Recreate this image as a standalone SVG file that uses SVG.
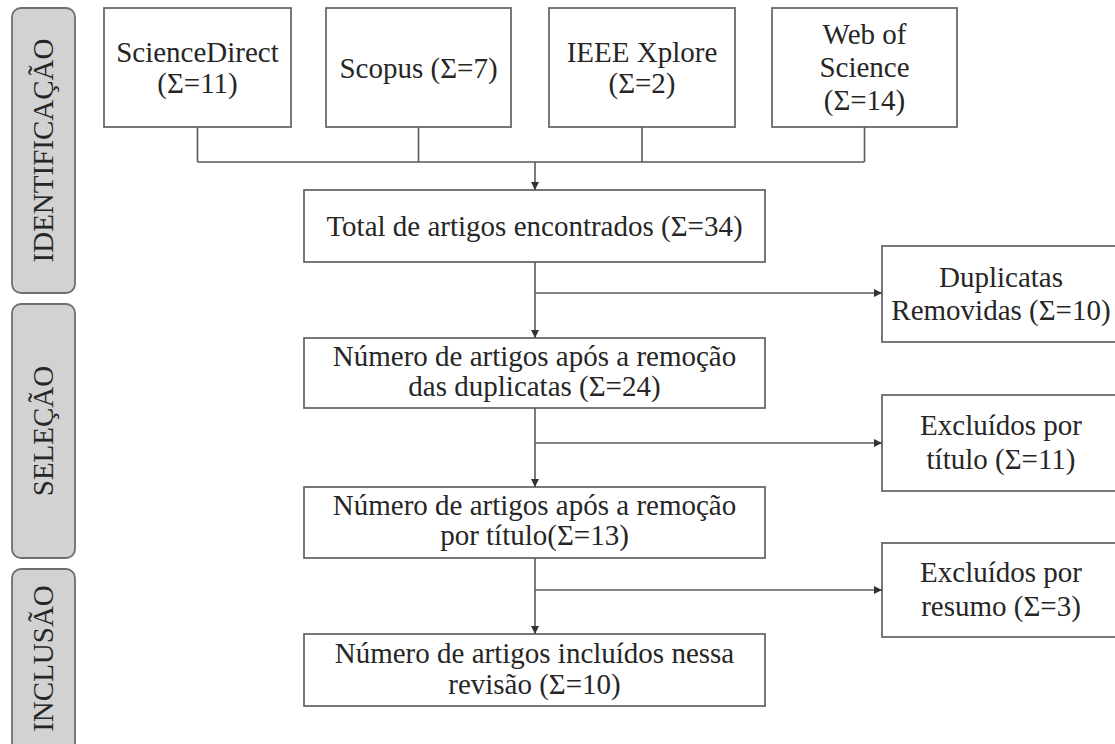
<svg xmlns="http://www.w3.org/2000/svg" width="1115" height="744" viewBox="0 0 1115 744">
<defs>
<style>
.box{fill:#fff;stroke:#6a6a6a;stroke-width:1.8}
.side{fill:#d2d2d2;stroke:#6e6e6e;stroke-width:1.8}
.t{font-family:"Liberation Serif","Times New Roman",serif;font-size:29px;fill:#262626;text-anchor:middle}
.c{fill:none;stroke:#5a5a5a;stroke-width:1.6}
</style>
<marker id="ah" viewBox="0 0 10 10" refX="10" refY="5" markerWidth="8" markerHeight="8" markerUnits="userSpaceOnUse" orient="auto">
<path d="M0,0 L10,5 L0,10 z" fill="#333"/>
</marker>
</defs>
<rect width="1115" height="744" fill="#fff"/>

<g id="side-identificacao">
<rect class="side" x="12" y="8" width="63" height="285" rx="9"/>
<text class="t" transform="translate(53,150.5) rotate(-90)">IDENTIFICAÇÃO</text>
</g>
<g id="side-selecao">
<rect class="side" x="12" y="304" width="63" height="254" rx="9"/>
<text class="t" transform="translate(53,431) rotate(-90)">SELEÇÃO</text>
</g>
<g id="side-inclusao">
<rect class="side" x="12" y="569" width="63" height="190" rx="9"/>
<text class="t" transform="translate(53,658.5) rotate(-90)">INCLUSÃO</text>
</g>

<g id="n-sciencedirect">
<rect class="box" x="104" y="8" width="187" height="119"/>
<text class="t" x="197.5" y="62">ScienceDirect</text>
<text class="t" x="197.5" y="93">(Σ=11)</text>
</g>
<g id="n-scopus">
<rect class="box" x="326" y="8" width="185" height="119"/>
<text class="t" x="418.5" y="78">Scopus (Σ=7)</text>
</g>
<g id="n-ieee">
<rect class="box" x="549" y="8" width="186" height="119"/>
<text class="t" x="642" y="62">IEEE Xplore</text>
<text class="t" x="642" y="93">(Σ=2)</text>
</g>
<g id="n-wos">
<rect class="box" x="772" y="8" width="185" height="119"/>
<text class="t" x="864.5" y="44">Web of</text>
<text class="t" x="864.5" y="77">Science</text>
<text class="t" x="864.5" y="110">(Σ=14)</text>
</g>

<g id="n-total">
<rect class="box" x="304" y="190" width="461" height="72"/>
<text class="t" x="534.5" y="236">Total de artigos encontrados (Σ=34)</text>
</g>
<g id="n-apos-duplicatas">
<rect class="box" x="304" y="338" width="461" height="70"/>
<text class="t" x="534.5" y="366">Número de artigos após a remoção</text>
<text class="t" x="534.5" y="396">das duplicatas (Σ=24)</text>
</g>
<g id="n-apos-titulo">
<rect class="box" x="304" y="487" width="461" height="71"/>
<text class="t" x="534.5" y="515">Número de artigos após a remoção</text>
<text class="t" x="534.5" y="545">por título(Σ=13)</text>
</g>
<g id="n-incluidos">
<rect class="box" x="304" y="634" width="461" height="72"/>
<text class="t" x="534.5" y="663">Número de artigos incluídos nessa</text>
<text class="t" x="534.5" y="694">revisão (Σ=10)</text>
</g>

<g id="n-duplicatas">
<rect class="box" x="882" y="246" width="240" height="96"/>
<text class="t" x="1001" y="287">Duplicatas</text>
<text class="t" x="1001" y="320">Removidas (Σ=10)</text>
</g>
<g id="n-excl-titulo">
<rect class="box" x="882" y="395" width="240" height="96"/>
<text class="t" x="1001" y="435">Excluídos por</text>
<text class="t" x="1001" y="469">título (Σ=11)</text>
</g>
<g id="n-excl-resumo">
<rect class="box" x="882" y="543" width="240" height="94"/>
<text class="t" x="1001" y="582">Excluídos por</text>
<text class="t" x="1001" y="616">resumo (Σ=3)</text>
</g>

<g id="connectors">
<path class="c" d="M197.5,127 V162 M418.5,127 V162 M642,127 V162 M864.5,127 V162 M197.5,162 H864.5"/>
<path class="c" d="M535,162 V190" marker-end="url(#ah)"/>
<path class="c" d="M535,262 V338" marker-end="url(#ah)"/>
<path class="c" d="M535,293 H882" marker-end="url(#ah)"/>
<path class="c" d="M535,408 V487" marker-end="url(#ah)"/>
<path class="c" d="M535,443 H882" marker-end="url(#ah)"/>
<path class="c" d="M535,558 V634" marker-end="url(#ah)"/>
<path class="c" d="M535,590 H882" marker-end="url(#ah)"/>
</g>
</svg>
